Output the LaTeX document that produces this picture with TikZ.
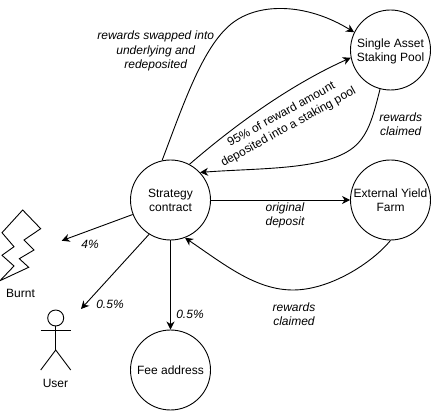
\documentclass[tikz,border=0pt]{standalone}
\usepackage{fontspec}
\setmainfont{Liberation Sans}
\usetikzlibrary{arrows.meta}
\newcommand{\tst}{\rule{0pt}{12pt}}
\newcommand{\bst}{\rule[-3pt]{0pt}{3pt}}
\tikzset{
  every node/.style={font=\fontsize{12}{14.5}\selectfont},
  circ/.style={draw=black,circle,line width=0.9pt,minimum size=80pt,inner sep=0pt,align=center},
  lab/.style={font=\fontsize{12}{14.5}\selectfont\itshape,align=center,inner sep=0pt},
  plain/.style={align=center,inner sep=0pt},
  edge/.style={draw=black,line width=0.9pt,-{Stealth[length=8pt,width=8pt,inset=2.5pt]}},
  shapeline/.style={draw=black,line width=0.9pt,line join=miter}
}
\begin{document}
\begin{tikzpicture}[x=1pt,y=-1pt]
\useasboundingbox (0,0) rectangle (431,411);
\node[circ] (strategy) at (170.5,200) {\tst Strategy\\contract\bst};
\node[circ] (fee) at (170.5,370) {\tst Fee address\bst};
\node[circ] (pool) at (390.5,50) {\tst Single Asset\\Staking Pool\bst};
\node[circ] (farm) at (390.5,200) {\tst External Yield\\Farm\bst};
% lightning
\draw[shapeline] (22.7,210) -- (40.7,228.7) -- (24,240) -- (34,250) -- (19.3,258.7) -- (28.7,267.3) -- (0,280.7) -- (14,266) -- (2,255.3) -- (14,246.7) -- (2,232.7) -- cycle;
\node[plain] (burnt) at (20.5,293) {\tst Burnt\bst};
% stick figure
\node[draw=black,circle,line width=0.9pt,minimum size=16pt,inner sep=0pt] (head) at (55.7,318) {};
\coordinate (hip) at (55.7,350);
\draw[shapeline] (head.south) -- (hip);
\draw[shapeline] (40.7,330) -- (70.7,330);
\draw[shapeline] (40.7,370) -- (hip) -- (70.7,370);
\node[plain] (user) at (55.5,383) {\tst User\bst};
% free ends
\coordinate (burntend) at (61.7,240.7);
\coordinate (userend) at (81,309);
% connectors
\draw[edge] (strategy.102) .. controls (185,100) and (205,40) .. (236.7,20) .. controls (265,2) and (310,5) .. (pool.154);
\draw[edge] (strategy.62) .. controls (235,125) and (290,85) .. (pool.191);
\draw[edge] (pool.255) .. controls (373,117) and (368,138) .. (350,150) .. controls (320,170) and (260,168) .. (strategy.43);
\draw[edge] (strategy.east) -- (farm.west);
\draw[edge] (farm.south) .. controls (372,263) and (330,290) .. (293,290) .. controls (256,290) and (225,265) .. (strategy.-69);
\draw[edge] (strategy.south) -- (fee.north);
\draw[edge] (strategy.201) -- (burntend);
\draw[edge] (strategy.238) -- (userend);
% labels
\node[lab] (l1) at (155.7,50) {\tst rewards swapped into\\underlying and\\redeposited\bst};
\node[font=\fontsize{12}{14.5}\selectfont,align=center,inner sep=0pt,rotate=29] (l2) at (285,121) {95\% of reward amount\\deposited into a staking pool};
\node[lab] (l3) at (400.7,124) {\tst rewards\\claimed\bst};
\node[lab] (l4) at (285,214) {\tst original\\deposit\bst};
\node[lab] (l5) at (294,314) {\tst rewards\\claimed\bst};
\node[lab] (l6) at (90,244) {\tst 4\%\bst};
\node[lab] (l7) at (110,304) {\tst 0.5\%\bst};
\node[lab] (l8) at (190,314) {\tst 0.5\%\bst};
\end{tikzpicture}
\end{document}
